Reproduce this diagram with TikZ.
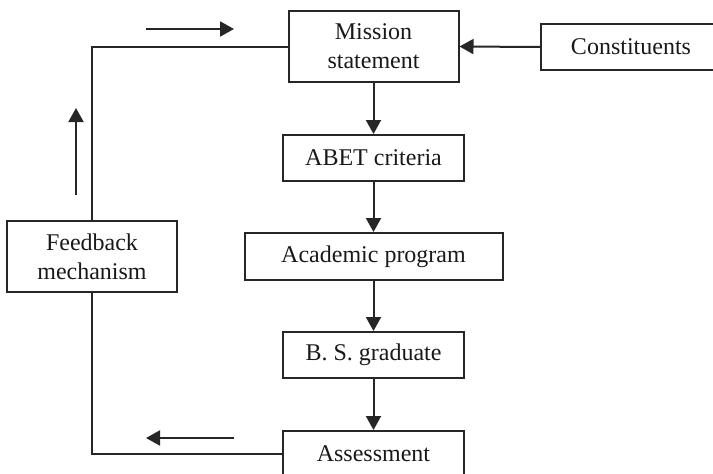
\documentclass[tikz,border=0pt]{standalone}
\usepackage{fontspec}
\setmainfont{Liberation Serif}
\usetikzlibrary{arrows.meta}
\begin{document}
\begin{tikzpicture}[x=1pt,y=-1pt,
  box/.style={draw=black!85, line width=2pt, inner sep=0pt, align=center,
    font=\fontsize{24}{29}\selectfont, text=black!90},
  line/.style={line width=2pt, draw=black!85},
  arr/.style={-{Triangle[length=14pt,width=15pt]}, line width=2pt, draw=black!85, fill=black!85}]
\useasboundingbox (0,0) rectangle (713,474);
\clip (0,0) rectangle (713,474);
\node[box, minimum width=170pt, minimum height=71pt] (mission) at (373.5,46.5) {Mission\\statement};
\node[box, minimum width=180pt, minimum height=46pt] (const) at (631,47) {Constituents};
\node[box, minimum width=181pt, minimum height=46pt] (abet) at (373.5,158) {ABET criteria};
\node[box, minimum width=258pt, minimum height=47pt] (acad) at (373.5,256.5) {Academic program};
\node[box, minimum width=181pt, minimum height=46pt] (bs) at (373.5,355) {B. S. graduate};
\node[box, minimum width=181pt, minimum height=46pt] (assess) at (373.5,454) {Assessment};
\node[box, minimum width=170pt, minimum height=71pt] (fb) at (92,256.5) {Feedback\\mechanism};
\draw[arr] (const.west) -- (mission.east);
\draw[arr] (mission.south) -- (abet.north);
\draw[arr] (abet.south) -- (acad.north);
\draw[arr] (acad.south) -- (bs.north);
\draw[arr] (bs.south) -- (assess.north);
\draw[line] (fb.north) |- (mission.west);
\draw[line] (fb.south) |- (assess.west);
\coordinate (ta) at (146,29);
\coordinate (tb) at (234,29);
\coordinate (ua) at (76,195);
\coordinate (ub) at (76,108);
\coordinate (ba) at (234,438);
\coordinate (bb) at (146,438);
\draw[arr] (ta) -- (tb);
\draw[arr] (ua) -- (ub);
\draw[arr] (ba) -- (bb);
\end{tikzpicture}
\end{document}
